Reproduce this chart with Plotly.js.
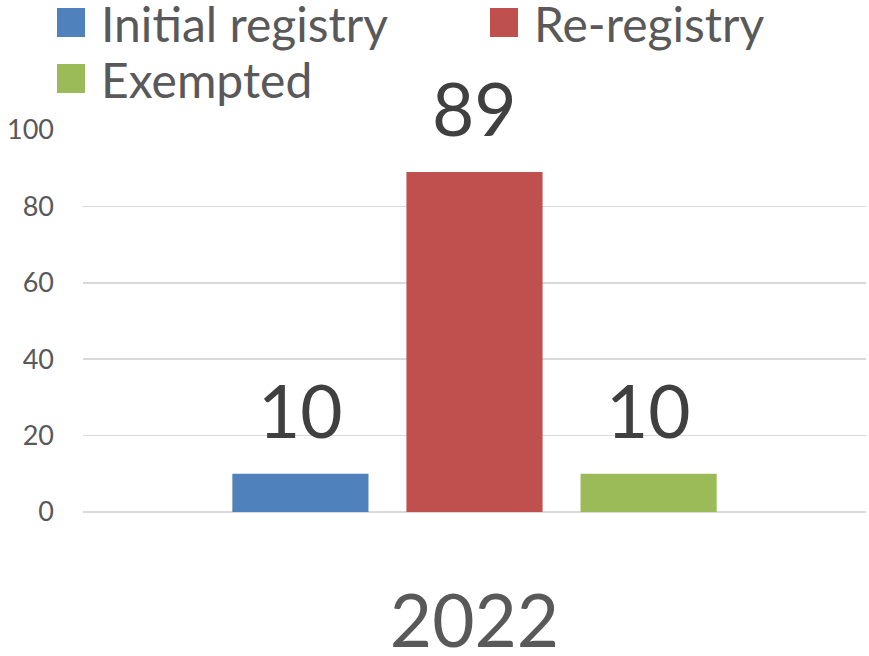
<!DOCTYPE html>
<html>
<head>
<meta charset="utf-8">
<script src="https://cdn.plot.ly/plotly-3.0.1.min.js"></script>
<style>html,body{margin:0;padding:0;background:#fff;}#chart{width:869px;height:656px;}</style>
</head>
<body>
<div id="chart"></div>
<script>
// ---- data ----
const categories = ["2022"];
const seriesNames = ["Initial registry", "Re-registry", "Exempted"];
const initialRegistry = [10];
const reRegistry = [89];
const exempted = [10];
const yTickValues = [0, 20, 40, 60, 80, 100];

// ---- styling ----
const colors = ["#4f81bd", "#c0504d", "#9bbb59"];
const seriesValues = [initialRegistry, reRegistry, exempted];
const FONT = "Lato, 'Open Sans', sans-serif";
const W = 869, H = 656;
const M = {l: 83, r: 3, t: 130, b: 144};
const plotW = W - M.l - M.r, plotH = H - M.t - M.b;
const BARGAP = 0.333, BARGROUPGAP = 0.218;
const slot = plotW * (1 - BARGAP) / seriesNames.length;
const px2x = p => (p - M.l) / plotW;
const py2y = p => (H - M.b - p) / plotH;

const traces = seriesNames.map((name, i) => ({
  type: "bar",
  name: name,
  x: categories,
  y: seriesValues[i],
  marker: {color: colors[i]},
  showlegend: false,
  hoverinfo: "none"
}));

const shapes = [], annotations = [];

// data labels above bars
seriesNames.forEach((name, i) => {
  seriesValues[i].forEach((v, j) => {
    annotations.push({
      xref: "x", yref: "y", x: j, y: v,
      xanchor: "center", yanchor: "bottom", showarrow: false,
      xshift: (i - (seriesNames.length - 1) / 2) * slot, yshift: 18,
      text: String(v), font: {family: FONT, size: 73, color: "#404040"}
    });
  });
});

// manual legend (large square markers)
const colX = [57, 490], rowY = [8, 64], sq = 29;
seriesNames.forEach((name, i) => {
  const cx = colX[i % 2], cy = rowY[Math.floor(i / 2)];
  shapes.push({
    type: "rect", xref: "paper", yref: "paper",
    x0: px2x(cx), x1: px2x(cx + 28), y0: py2y(cy), y1: py2y(cy + sq),
    fillcolor: colors[i], line: {width: 0}
  });
  annotations.push({
    xref: "paper", yref: "paper", x: px2x(cx + 42), y: py2y(cy + sq / 2 + 1),
    xanchor: "left", yanchor: "middle", showarrow: false,
    text: name, font: {family: FONT, size: 48, color: "#595959"}
  });
});

const layout = {
  width: W, height: H,
  margin: M,
  paper_bgcolor: "#ffffff", plot_bgcolor: "#ffffff",
  barmode: "group",
  bargap: BARGAP,
  bargroupgap: BARGROUPGAP,
  showlegend: false,
  xaxis: {
    type: "category",
    range: [-0.5, categories.length - 0.5],
    autorange: false,
    tickfont: {family: FONT, size: 73, color: "#595959"},
    ticks: "", showgrid: false, showline: false, zeroline: false,
    ticklabelstandoff: 61
  },
  yaxis: {
    range: [0, 100],
    autorange: false,
    tickvals: yTickValues,
    tickfont: {family: FONT, size: 27, color: "#595959"},
    ticks: "", showline: false,
    gridcolor: "#d9d9d9", gridwidth: 1.5,
    zeroline: true, zerolinecolor: "#d9d9d9", zerolinewidth: 1.5,
    ticklabelstandoff: 28
  },
  shapes: shapes,
  annotations: annotations
};

Plotly.newPlot("chart", traces, layout, {displayModeBar: false, staticPlot: true});
</script>
</body>
</html>
